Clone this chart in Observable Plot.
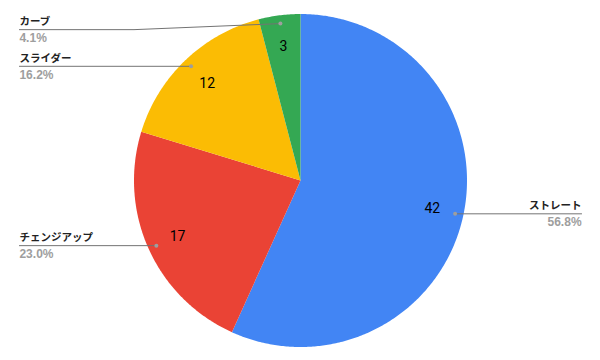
<!DOCTYPE html>
<html>
<head>
<meta charset="utf-8">
<script src="https://cdn.jsdelivr.net/npm/d3@7"></script>
<script src="https://cdn.jsdelivr.net/npm/@observablehq/plot@0.6"></script>
<style>
  html, body { margin: 0; padding: 0; background: #fff; }
  #chart svg { display: block; }
</style>
</head>
<body>
<div id="chart"></div>
<script>
const names = ["ストレート", "チェンジアップ", "スライダー", "カーブ"];
const counts = [42, 17, 12, 3];
const percentLabels = ["56.8%", "23.0%", "16.2%", "4.1%"];
const colors = ["#4285f4", "#ea4335", "#fbbc04", "#34a853"];

const rows = names.map((name, i) => ({name, count: counts[i], pct: percentLabels[i]}));
const arcs = d3.pie().sort(null).value(d => d.count)(rows);

// polar -> cartesian in unit-radius data space (angle 0 at 12 o'clock, clockwise)
const pt = (a, r) => [r * Math.sin(a), r * Math.cos(a)];

// slice outlines
const slicePts = [];
arcs.forEach(a => {
  const n = Math.max(2, Math.ceil((a.endAngle - a.startAngle) / 0.01));
  slicePts.push({name: a.data.name, x: 0, y: 0});
  for (let k = 0; k <= n; k++) {
    const ang = a.startAngle + (a.endAngle - a.startAngle) * k / n;
    const [x, y] = pt(ang, 1);
    slicePts.push({name: a.data.name, x, y});
  }
  slicePts.push({name: a.data.name, x: 0, y: 0});
});

// value labels inside slices
const valueLabels = arcs.map(a => {
  const [x, y] = pt((a.startAngle + a.endAngle) / 2, 0.81);
  return {x, y, text: String(a.data.count)};
});

// leader lines and outside labels
const labelX = 1.688, topLimit = 0.906;
const leaders = [], dots = [], outLabels = [];
arcs.forEach(a => {
  const mid = (a.startAngle + a.endAngle) / 2;
  const [dx, dy] = pt(mid, 0.95);
  const right = dx > 0;
  const ly = Math.min(dy, topLimit);
  const lx = right ? labelX : -labelX;
  dots.push({x: dx, y: dy});
  leaders.push({name: a.data.name, x: dx, y: dy});
  if (ly !== dy) leaders.push({name: a.data.name, x: right ? 1 : -1, y: ly});
  leaders.push({name: a.data.name, x: lx, y: ly});
  outLabels.push({x: lx, y: ly, name: a.data.name, pct: a.data.pct, anchor: right ? "end" : "start"});
});

const font = "'Liberation Sans', Arial, 'Noto Sans CJK JP', sans-serif";

const chart = Plot.plot({
  width: 600,
  height: 360,
  marginLeft: 133.5,
  marginRight: 133.5,
  marginTop: 13.5,
  marginBottom: 13.5,
  x: {domain: [-1, 1], axis: null},
  y: {domain: [-1, 1], axis: null},
  color: {domain: names, range: colors},
  style: {fontFamily: font, background: "#fff"},
  marks: [
    Plot.line(slicePts, {x: "x", y: "y", z: "name", fill: "name", stroke: "none", curve: "linear"}),
    Plot.line(leaders, {x: "x", y: "y", z: "name", stroke: "#737373", strokeWidth: 1}),
    Plot.dot(dots, {x: "x", y: "y", r: 2, fill: "#9e9e9e", stroke: "none"}),
    Plot.text(valueLabels, {x: "x", y: "y", text: "text", fontSize: 14, fontFamily: "Roboto, 'Liberation Sans', Arial, sans-serif", fill: "#000"}),
    Plot.text(outLabels.filter(d => d.anchor === "start"), {x: "x", y: "y", text: "name", textAnchor: "start", dy: -8, fontSize: 10.5, fontWeight: "bold", fill: "#222"}),
    Plot.text(outLabels.filter(d => d.anchor === "end"), {x: "x", y: "y", text: "name", textAnchor: "end", dy: -8, fontSize: 10.5, fontWeight: "bold", fill: "#222"}),
    Plot.text(outLabels.filter(d => d.anchor === "start"), {x: "x", y: "y", text: "pct", textAnchor: "start", dy: 8.5, fontSize: 12, fontWeight: "bold", fill: "#9e9e9e"}),
    Plot.text(outLabels.filter(d => d.anchor === "end"), {x: "x", y: "y", text: "pct", textAnchor: "end", dy: 8.5, fontSize: 12, fontWeight: "bold", fill: "#9e9e9e"})
  ]
});
document.getElementById("chart").appendChild(chart);
</script>
</body>
</html>
